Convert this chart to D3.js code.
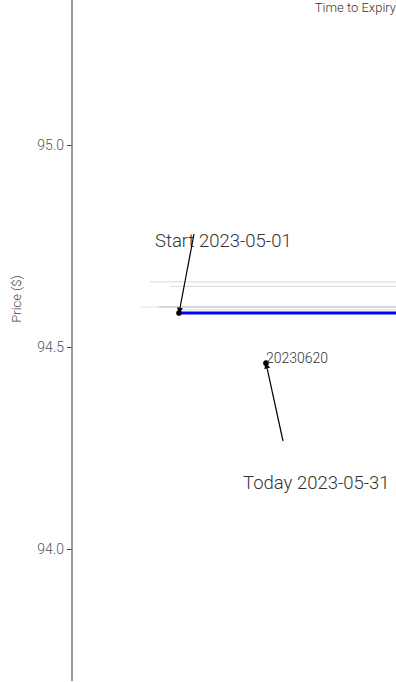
<!DOCTYPE html>
<html><head><meta charset="utf-8">
<script src="https://cdn.jsdelivr.net/npm/d3@7"></script>
<style>body{margin:0;background:#fff;font-family:Roboto,"Noto Sans",sans-serif;}</style>
</head><body><svg id="c" width="396" height="682"></svg>
<script>
// ---- data ----
const yTicks = [94.0, 94.5, 95.0];
const startDate = "2023-05-01";
const todayDate = "2023-05-31";
const endDate = "2023-07-31";
// history lines (start date, price), faint gray
const grayStarts = ["2023-04-21", "2023-04-28", "2023-04-18", "2023-04-24"];
const grayPrices = [94.661, 94.650, 94.599, 94.599];
const grayOpacity = [0.12, 0.12, 0.12, 0.2];
// current price path
const bluePrice = 94.584;
const lightBluePrice = 94.592;
const pointLabel = "20230620";
const pointPrice = 94.46;

const parse = d3.utcParse("%Y-%m-%d");
const svg = d3.select("#c");
const x = d3.scaleUtc().domain([parse(startDate), parse(todayDate)]).range([179, 266]);
const y = d3.scaleLinear().domain([94.0, 95.0]).range([549, 145]);

// y axis
const ax = svg.append("g").attr("transform", "translate(72,0)")
  .call(d3.axisLeft(y).tickValues(yTicks).tickFormat(d3.format(".1f")).tickSize(5).tickPadding(3));
ax.select(".domain").remove();
ax.selectAll(".tick line").attr("stroke", "#444");
ax.selectAll("text").attr("fill", "#555").attr("font-size", 14).attr("font-family", "Roboto").attr("font-weight", 300);
svg.append("line").attr("x1", 72).attr("x2", 72).attr("y1", 0).attr("y2", 681)
  .attr("stroke", "#777").attr("stroke-width", 1.5);

svg.append("text").attr("transform", "translate(21,299) rotate(-90)")
  .attr("text-anchor", "middle").attr("font-size", 13).attr("font-weight", 300).attr("fill", "#444")
  .text("Price ($)");

// gray lines
grayStarts.forEach((s, i) => {
  svg.append("line").attr("x1", x(parse(s))).attr("x2", x(parse(endDate)))
    .attr("y1", y(grayPrices[i])).attr("y2", y(grayPrices[i]))
    .attr("stroke", "#000").attr("stroke-opacity", grayOpacity[i]).attr("stroke-width", 1.2);
});
// light blue line
svg.append("line").attr("x1", x(parse(startDate))).attr("x2", x(parse(endDate)))
  .attr("y1", y(lightBluePrice)).attr("y2", y(lightBluePrice))
  .attr("stroke", "#a8c4e0").attr("stroke-opacity", 0.6).attr("stroke-width", 1);
// blue line
svg.append("line").attr("x1", x(parse(startDate))).attr("x2", x(parse(endDate)))
  .attr("y1", y(bluePrice)).attr("y2", y(bluePrice))
  .attr("stroke", "#0000ff").attr("stroke-width", 3);

// markers
const defs = svg.append("defs");
defs.append("marker").attr("id", "ah").attr("viewBox", "0 0 10 10").attr("refX", 9).attr("refY", 5)
  .attr("markerWidth", 5).attr("markerHeight", 5).attr("orient", "auto")
  .append("path").attr("d", "M0,0L10,5L0,10z").attr("fill", "#000");

function annot(date, price, tx, ty, ax0, ay0, label, size) {
  const px = x(parse(date)), py = y(price);
  svg.append("circle").attr("cx", px).attr("cy", py).attr("r", 2.8).attr("fill", "#000");
  svg.append("text").attr("x", tx).attr("y", ty).attr("font-size", size).attr("font-weight", 300)
    .attr("fill", "#333").text(label);
  svg.append("line").attr("x1", ax0).attr("y1", ay0).attr("x2", px).attr("y2", py)
    .attr("stroke", "#000").attr("stroke-width", 1.2).attr("marker-end", "url(#ah)");
}
annot(startDate, bluePrice, 155, 247, 194, 234, "Start " + startDate, 18.5);
annot(todayDate, pointPrice, 243, 489, 283, 441, "Today " + todayDate, 18.5);
svg.append("text").attr("x", x(parse(todayDate))).attr("y", 363).attr("font-size", 14)
  .attr("font-weight", 300).attr("fill", "#333").text(pointLabel);

svg.append("text").attr("x", 396).attr("y", 12).attr("text-anchor", "end").attr("font-size", 13)
  .attr("font-weight", 300).attr("fill", "#333").text("Time to Expiry");
</script></body></html>
